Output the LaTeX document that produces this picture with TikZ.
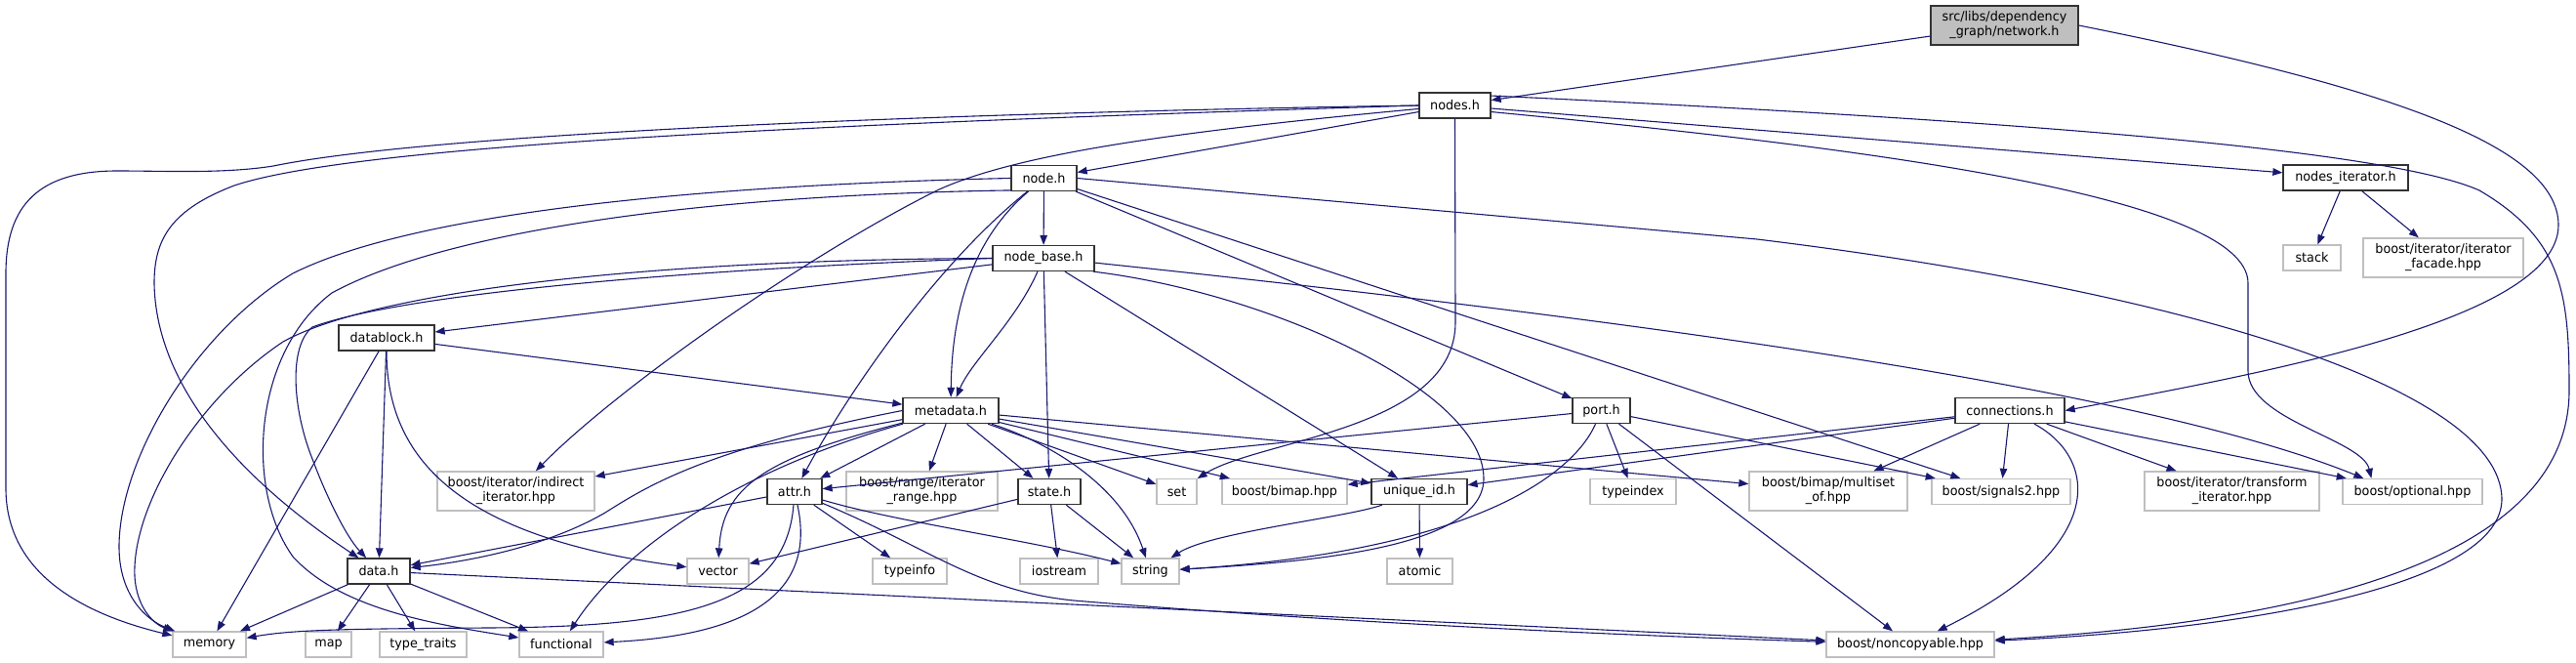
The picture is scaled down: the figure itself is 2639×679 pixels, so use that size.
\documentclass[tikz,border=0pt]{standalone}
\usepackage{fontspec}
\setmainfont{DejaVu Sans}[FakeStretch=0.96]
\usetikzlibrary{arrows.meta}
\definecolor{midnight}{HTML}{191970}
\newcommand\dox{\fontsize{13.3}{15}\selectfont}

\begin{document}
\begin{tikzpicture}[x=1pt,y=-1pt,
    hdr/.style={draw=black!80,line width=1.3pt,fill=white,inner sep=1pt,minimum height=26pt,font=\dox},
    sys/.style={hdr,draw=gray!50},
    dep/.style={midnight,line width=1.1pt,-{Triangle[length=10pt,width=7.5pt]}}]

\useasboundingbox (0,0) rectangle (2639,679);

%========================
% Headers of the project
%========================

% Root file
\node[hdr,fill=gray!50,minimum width=151pt,minimum height=40pt,align=center] (net) at (2053.5,26) {src/libs/dependency\\\_graph/network.h};

% Inner levels
\node[hdr,minimum width=73pt] (nodes) at (1490.5,108) {nodes.h};
\node[hdr,minimum width=67pt] (node) at (1069.5,182.5) {node.h};
\node[hdr,minimum width=128pt] (nodesit) at (2403,182) {nodes\_iterator.h};
\node[hdr,minimum width=104pt] (nodebase) at (1069,264.5) {node\_base.h};
\node[hdr,minimum width=98pt] (datablock) at (396,346) {datablock.h};
\node[hdr,minimum width=98pt] (metadata) at (974,420.5) {metadata.h};
\node[hdr,minimum width=59pt] (port) at (1640.5,420.5) {port.h};
\node[hdr,minimum width=112pt] (conn) at (2059,420.5) {connections.h};
\node[hdr,minimum width=56pt] (attr) at (814,503.5) {attr.h};
\node[hdr,minimum width=64pt] (state) at (1075,503.5) {state.h};
\node[hdr,minimum width=98pt] (uid) at (1454,503.5) {unique\_id.h};
\node[hdr,minimum width=64pt] (data) at (388,585) {data.h};

%========================
% System and boost headers
%========================

\node[sys,minimum width=59pt] (stack) at (2368.5,264) {stack};
\node[sys,minimum width=164pt,minimum height=40pt,align=center] (facade) at (2503,264) {boost/iterator/iterator\\\_facade.hpp};

% Middle row
\node[sys,minimum width=161pt,minimum height=40pt,align=center] (indirect) at (528.5,503) {boost/iterator/indirect\\\_iterator.hpp};
\node[sys,minimum width=155pt,minimum height=40pt,align=center] (range) at (944.5,503) {boost/range/iterator\\\_range.hpp};
\node[sys,minimum width=41pt] (set) at (1205.5,503.5) {set};
\node[sys,minimum width=128pt] (bimap) at (1316,503.5) {boost/bimap.hpp};
\node[sys,minimum width=88pt] (typeindex) at (1673,503.5) {typeindex};
\node[sys,minimum width=162pt,minimum height=40pt,align=center] (multiset) at (1873,503) {boost/bimap/multiset\\\_of.hpp};
\node[sys,minimum width=142pt] (signals2) at (2050,503.5) {boost/signals2.hpp};
\node[sys,minimum width=179pt,minimum height=40pt,align=center] (transform) at (2286.5,503) {boost/iterator/transform\\\_iterator.hpp};
\node[sys,minimum width=143pt] (optional) at (2471.5,503.5) {boost/optional.hpp};

% Lower row
\node[sys,minimum width=63pt] (vector) at (735.5,585) {vector};
\node[sys,minimum width=76pt] (typeinfo) at (932,585) {typeinfo};
\node[sys,minimum width=80pt] (iostream) at (1085,585) {iostream};
\node[sys,minimum width=59pt] (string) at (1178.5,585) {string};
\node[sys,minimum width=67pt] (atomic) at (1454.5,585) {atomic};

% Bottom row
\node[sys,minimum width=75pt] (memory) at (214.5,660) {memory};
\node[sys,minimum width=47pt] (map) at (336.5,660) {map};
\node[sys,minimum width=89pt] (typetraits) at (433.5,660) {type\_traits};
\node[sys,minimum width=86pt] (functional) at (575,660) {functional};
\node[sys,minimum width=172pt] (noncopy) at (1957,660) {boost/noncopyable.hpp};

%========================
% Includes
%========================

% network.h
\draw[dep] (net) -- (nodes);
\draw[dep] (net.east) .. controls (2450,90) and (2620,150) .. (2621,230) .. controls (2622,330) and (2300,385) .. (conn.east);

% nodes.h
\draw[dep] (nodes.west) .. controls (1000,115) and (450,135) .. (280,170) .. controls (230,178) and (170,175) .. (120,175) .. controls (40,175) and (6,210) .. (6,280) -- (6,500) .. controls (6,590) and (90,630) .. (memory);
\draw[dep] (nodes.west) .. controls (800,128) and (360,150) .. (240,190) .. controls (175,215) and (158,245) .. (158,290) .. controls (160,420) and (290,520) .. (data);
\draw[dep] (nodes) -- (node);
\draw[dep] (nodes) .. controls (1200,135) and (1040,158) .. (960,195) .. controls (820,265) and (630,400) .. (indirect);
\draw[dep] (nodes.south) -- (1491,330) .. controls (1491,440) and (1290,450) .. (set);
\draw[dep] (nodes) -- (nodesit);
\draw[dep] (nodes.-10) .. controls (1900,150) and (2303,200) .. (2303,290) -- (2303,380) .. controls (2303,430) and (2420,450) .. ([xshift=30pt]optional.north west);
\draw[dep] (nodes.15) .. controls (2100,125) and (2450,155) .. (2540,195) .. controls (2625,245) and (2632,300) .. (2632,400) .. controls (2632,560) and (2400,635) .. (noncopy);

% node.h
\draw[dep] (node) -- (nodebase);
\draw[dep] (node.west) .. controls (700,190) and (420,220) .. (300,280) .. controls (200,340) and (122,470) .. (122,560) .. controls (122,610) and (150,635) .. (memory);
\draw[dep] (node.200) .. controls (700,200) and (450,240) .. (340,300) .. controls (260,360) and (250,500) .. (300,570) .. controls (350,625) and (450,640) .. (functional);
\draw[dep] (node) .. controls (990,250) and (975,330) .. (metadata);
\draw[dep] (node) .. controls (960,270) and (870,400) .. (attr);
\draw[dep] (node.east) -- (1800,245) .. controls (2250,300) and (2560,400) .. (2563,510) .. controls (2565,600) and (2300,645) .. (noncopy);
\draw[dep] (node) -- (port);
\draw[dep] (node) -- (signals2);

% node_base.h
\draw[dep] (nodebase) -- (datablock);
\draw[dep] (nodebase.west) .. controls (650,266) and (380,300) .. (290,350) .. controls (200,410) and (135,520) .. (138,590) .. controls (140,625) and (160,640) .. (memory);
\draw[dep] (nodebase.west) .. controls (650,278) and (400,305) .. (320,335) .. controls (295,355) and (300,420) .. (320,470) .. controls (335,510) and (355,550) .. (data);
\draw[dep] (nodebase) .. controls (1040,330) and (995,370) .. (metadata);
\draw[dep] (nodebase) -- (state);
\draw[dep] (nodebase) -- (uid);
\draw[dep] (nodebase.-15) .. controls (1300,300) and (1520,400) .. (1520,490) .. controls (1520,560) and (1350,575) .. (string);
\draw[dep] (nodebase.-5) .. controls (1700,330) and (2200,400) .. ([xshift=22pt]optional.north west);

% datablock.h
\draw[dep] (datablock) -- (metadata);
\draw[dep] (datablock) -- (data);
\draw[dep] (datablock) -- (memory);
\draw[dep] (datablock) .. controls (396,470) and (470,550) .. (vector);

% metadata.h
\draw[dep] (metadata) -- (indirect);
\draw[dep] (metadata.west) .. controls (720,460) and (660,500) .. (620,525) .. controls (560,560) and (480,575) .. (data);
\draw[dep] (metadata) -- (attr);
\draw[dep] (metadata) .. controls (780,470) and (740,500) .. (vector);
\draw[dep] (metadata) .. controls (760,480) and (640,560) .. (functional);
\draw[dep] (metadata) -- (range);
\draw[dep] (metadata) -- (state);
\draw[dep] (metadata) -- (set);
\draw[dep] (metadata) -- (bimap);
\draw[dep] (metadata) -- (uid);
\draw[dep] (metadata) .. controls (1080,455) and (1150,500) .. (string);
\draw[dep] (metadata) -- (multiset);

% port.h
\draw[dep] (port) -- (attr);
\draw[dep] (port) -- (typeindex);
\draw[dep] (port) -- (signals2);
\draw[dep] (port) -- (noncopy);
\draw[dep] (port) .. controls (1610,490) and (1500,565) .. (string);

% connections.h
\draw[dep] (conn) -- (bimap);
\draw[dep] (conn) -- (uid);
\draw[dep] (conn) -- (multiset);
\draw[dep] (conn) -- (signals2);
\draw[dep] (conn) .. controls (2150,470) and (2160,560) .. (noncopy);
\draw[dep] (conn) -- (transform);
\draw[dep] (conn) -- (optional);

% nodes_iterator.h
\draw[dep] (nodesit) -- (stack);
\draw[dep] (nodesit) -- (facade);

% attr.h
\draw[dep] (attr) -- (data);
\draw[dep] (attr) .. controls (805,620) and (700,642) .. (500,643) .. controls (350,644) and (300,645) .. (memory);
\draw[dep] (attr) .. controls (835,600) and (780,650) .. (functional);
\draw[dep] (attr) -- (typeinfo);
\draw[dep] (attr) .. controls (920,535) and (1050,552) .. (string);
\draw[dep] (attr) .. controls (950,560) and (1000,605) .. (1100,615) .. controls (1400,640) and (1700,652) .. (noncopy);

% state.h
\draw[dep] (state) -- (vector);
\draw[dep] (state) -- (iostream);
\draw[dep] (state) -- (string);

% unique_id.h
\draw[dep] (uid) .. controls (1380,530) and (1240,545) .. (string);
\draw[dep] (uid) -- (atomic);

% data.h
\draw[dep] (data) -- (memory);
\draw[dep] (data) -- (map);
\draw[dep] (data) -- (typetraits);
\draw[dep] (data) -- (functional);
\draw[dep] (data) -- (noncopy);

\end{tikzpicture}
\end{document}
